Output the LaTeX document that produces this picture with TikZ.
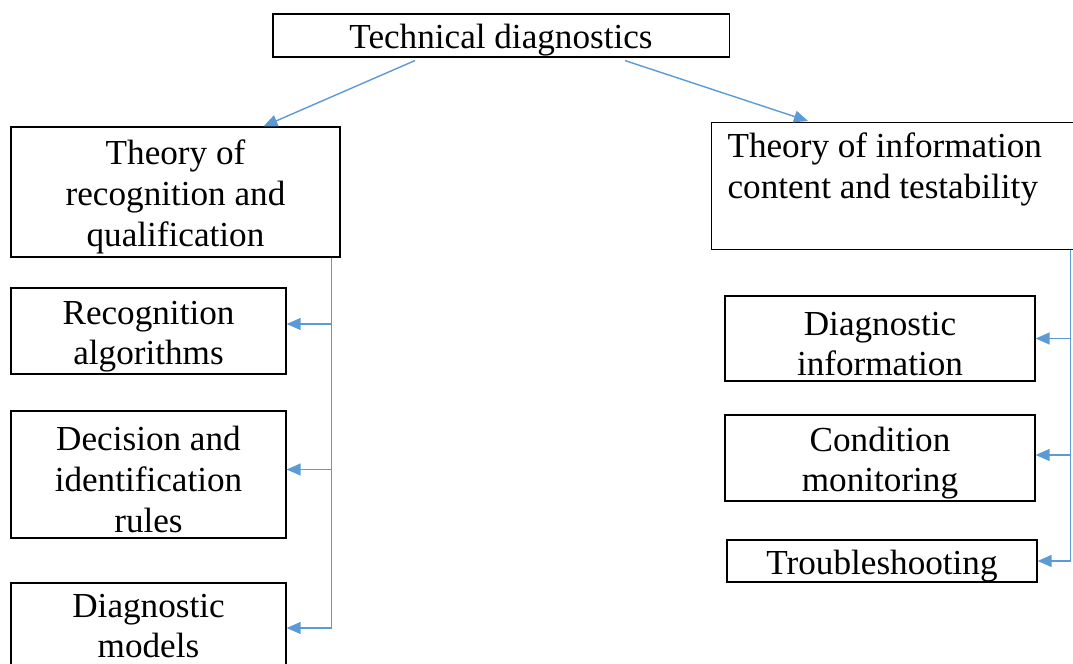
\documentclass[tikz,border=0pt]{standalone}
\usepackage{fontspec}
\setmainfont{Liberation Serif}
\usepackage{xcolor}
\usepackage{tikz}
\usetikzlibrary{arrows.meta,positioning}
\definecolor{linkblue}{HTML}{5B9BD5}
\newcommand{\topgap}{\rule{0pt}{24.5pt}}

\begin{document}
\begin{tikzpicture}[
    x=0.025cm, y=-0.025cm,
    base/.style={rectangle, draw, line width=0.8pt, inner sep=0pt, font=\fontsize{25}{29}\selectfont},
    box/.style={base, align=center},
    leftbox/.style={box, minimum width=6.875cm},
    rightbox/.style={box, minimum width=7.75cm},
    arrow/.style={-{Triangle[length=10pt,width=8.5pt]}, draw=linkblue, line width=1pt}
]
\useasboundingbox (0,0) rectangle (1073,664);
\clip (0,0) rectangle (1073,664);

% Top node
\node[box, minimum width=11.4cm, minimum height=1.075cm] (tech) at (501,35.5) {\topgap Technical diagnostics};

% Left branch
\node[box, minimum width=8.225cm, minimum height=3.25cm] (theoryL) at (175.5,192) {\topgap Theory of\\recognition and\\qualification};
\node[leftbox, minimum height=2.15cm] (recalg) at (148.5,331) {\topgap Recognition\\algorithms};
\node[leftbox, minimum height=3.175cm] (decision) at (148.5,474.5) {\topgap Decision and\\identification\\rules};
\node[leftbox, minimum height=2.15cm] (models) at (148.5,626) {Diagnostic\\models};

% Right branch
\node[base, anchor=north west, align=flush left, text width=8.425cm, inner xsep=0.4cm, minimum height=3.175cm] (theoryR) at (711,122) {Theory of information\\content and testability\\\mbox{}};
\node[rightbox, minimum height=2.125cm] (diaginfo) at (880,338.5) {\topgap Diagnostic\\information};
\node[rightbox, minimum height=2.15cm] (condmon) at (880,458) {\topgap Condition\\monitoring};
\node[rightbox, minimum height=1.05cm] (trouble) at (882,561) {\topgap Troubleshooting};

% Arrows
\draw[arrow] ([shift={(-86,3)}]tech.south) -- ([shift={(88,0)}]theoryL.north);
\draw[arrow] ([shift={(124,3)}]tech.south) -- ([shift={(97,-1)}]theoryR.north west);

\draw[arrow] ([shift={(-9,0)}]theoryL.south east) |- ([shift={(0,-7)}]recalg.east);
\draw[arrow] ([shift={(-9,0)}]theoryL.south east) |- ([shift={(0,-5)}]decision.east);
\draw[arrow] ([shift={(-9,0)}]theoryL.south east) |- ([shift={(0,2)}]models.east);

\draw[arrow] ([shift={(-11,0)}]theoryR.south east) |- (diaginfo.east);
\draw[arrow] ([shift={(-11,0)}]theoryR.south east) |- ([shift={(0,-3)}]condmon.east);
\draw[arrow] ([shift={(-11,0)}]theoryR.south east) |- (trouble.east);

\end{tikzpicture}
\end{document}
